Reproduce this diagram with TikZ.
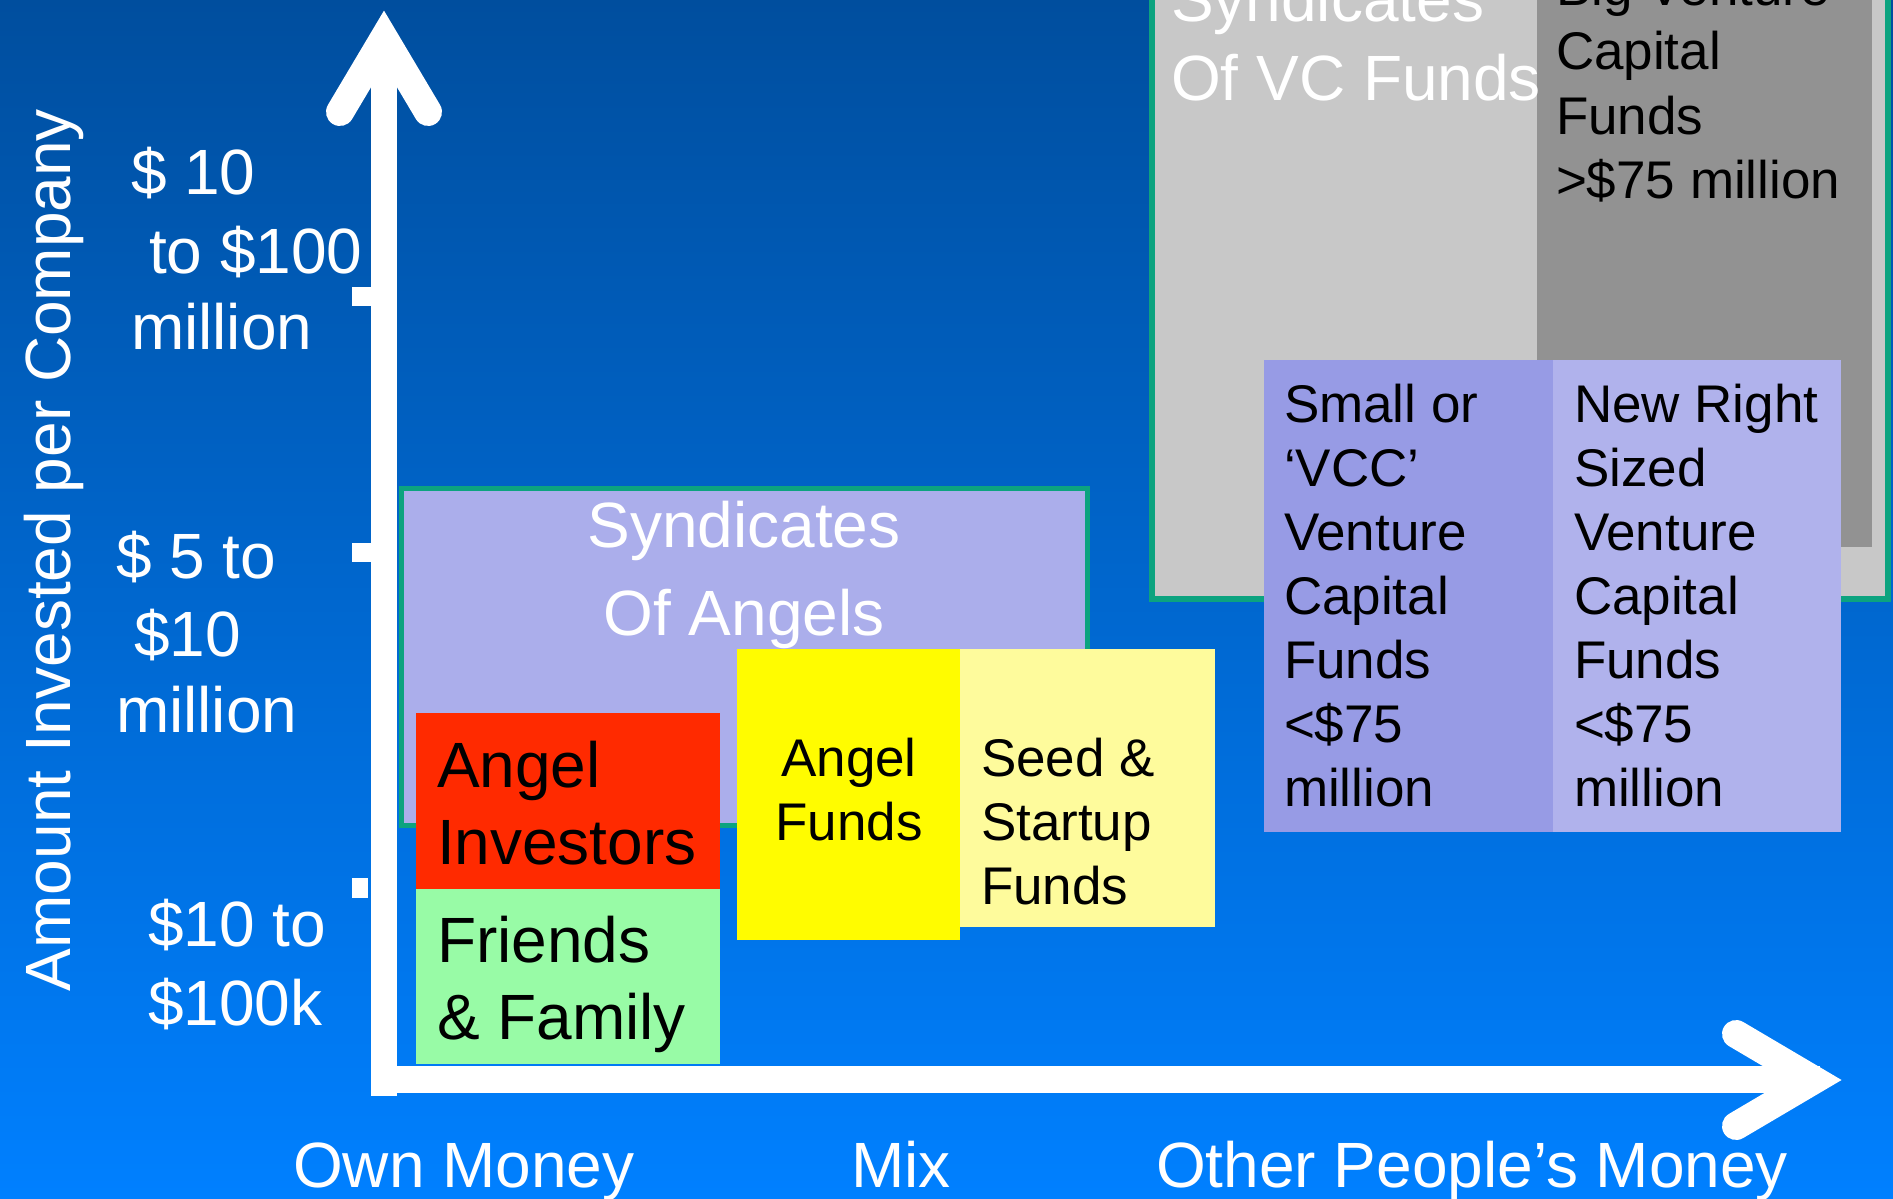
\documentclass[tikz,border=0pt]{standalone}
\usepackage{fontspec}
\setmainfont{Liberation Sans}
\definecolor{bgtop}{HTML}{004E9E}
\definecolor{bgbot}{HTML}{0080FF}
\definecolor{teal}{HTML}{0CA37F}
\definecolor{lgrey}{HTML}{C8C8C8}
\definecolor{dgrey}{HTML}{929292}
\definecolor{lav}{HTML}{ABAEEB}
\definecolor{peri}{HTML}{979BE5}
\definecolor{lperi}{HTML}{B0B2EC}
\definecolor{redbox}{HTML}{FF2A00}
\definecolor{greenbox}{HTML}{98FBA6}
\definecolor{yelbox}{HTML}{FFFC00}
\definecolor{pyelbox}{HTML}{FEFB9C}
\tikzset{
  boxnode/.style={anchor=north west, inner sep=0pt, outer sep=0pt},
  bigtxt/.style={font=\fontsize{64}{77}\selectfont, inner sep=0pt, outer sep=0pt},
  smalltxt/.style={font=\fontsize{53}{64}\selectfont, inner sep=0pt, outer sep=0pt},
  lft/.style={anchor=base west},
  ctr/.style={anchor=base},
  wtxt/.style={text=white},
  btxt/.style={text=black},
  axisbar/.style={fill=white, draw=none},
  chevron/.style={draw=white, line width=28pt, line cap=round, line join=miter}
}
\begin{document}
\begin{tikzpicture}[x=1pt,y=-1pt]
\useasboundingbox (0,0) rectangle (1893,1199);
\shade[top color=bgtop, bottom color=bgbot] (0,0) rectangle (1893,1199);

% right-hand boxes
\node[boxnode, fill=lgrey, draw=teal, line width=6pt, minimum width=736pt, minimum height=629pt] (vcsyn) at (1152,-30) {};
\node[boxnode, fill=dgrey, minimum width=335pt, minimum height=577pt] (bigvc) at (1537,-30) {};
\node[boxnode, fill=peri, minimum width=289pt, minimum height=472pt] (smallvc) at (1264,360) {};
\node[boxnode, fill=lperi, minimum width=288pt, minimum height=472pt] (newvc) at (1553,360) {};

% left-hand boxes
\node[boxnode, fill=lav, draw=teal, line width=5pt, minimum width=686pt, minimum height=337pt] (angsyn) at (401,488) {};
\node[boxnode, fill=redbox, minimum width=304pt, minimum height=176pt] (angel) at (416,713) {};
\node[boxnode, fill=greenbox, minimum width=304pt, minimum height=175pt] (friends) at (416,889) {};
\node[boxnode, fill=yelbox, minimum width=223pt, minimum height=291pt] (angfund) at (737,649) {};
\node[boxnode, fill=pyelbox, minimum width=255pt, minimum height=278pt] (seed) at (960,649) {};

% axes
\node[boxnode, axisbar, minimum width=26pt, minimum height=1056pt] (yaxis) at (371,40) {};
\node[boxnode, axisbar, minimum width=1449pt, minimum height=27pt] (xaxis) at (371,1066) {};
\coordinate (ytip) at (384,38);
\coordinate (yl) at (340,112);
\coordinate (yr) at (428,112);
\draw[chevron] (yl) -- (ytip) -- (yr);
\coordinate (xtip) at (1814,1080);
\coordinate (xu) at (1736,1034);
\coordinate (xd) at (1736,1126);
\draw[chevron] (xu) -- (xtip) -- (xd);
\node[boxnode, axisbar, minimum width=19pt, minimum height=19pt] (tick1) at (352,287) {};
\node[boxnode, axisbar, minimum width=19pt, minimum height=19pt] (tick2) at (352,543) {};
\node[boxnode, axisbar, minimum width=16pt, minimum height=20pt] (tick3) at (352,878) {};

% axis texts
\node[bigtxt, wtxt, rotate=90, anchor=base] (ylab) at (70,550) {Amount Invested per Company};
\node[bigtxt, wtxt, lft] (t1a) at (131,194) {\$ 10};
\node[bigtxt, wtxt, lft] (t1b) at (149,273) {to \$100};
\node[bigtxt, wtxt, lft] (t1c) at (131,349) {million};
\node[bigtxt, wtxt, lft] (t2a) at (116,578) {\$ 5 to};
\node[bigtxt, wtxt, lft] (t2b) at (134,656) {\$10};
\node[bigtxt, wtxt, lft] (t2c) at (116,732) {million};
\node[bigtxt, wtxt, lft] (t3a) at (148,946) {\$10 to};
\node[bigtxt, wtxt, lft] (t3b) at (148,1025) {\$100k};
\node[bigtxt, wtxt, lft] (x1) at (293,1187) {Own Money};
\node[bigtxt, wtxt, lft] (x2) at (851,1187) {Mix};
\node[bigtxt, wtxt, lft] (x3) at (1156,1187) {Other People’s Money};

% box texts
\node[bigtxt, wtxt, lft] (vcs1) at (1171,22) {Syndicates};
\node[bigtxt, wtxt, lft] (vcs2) at (1171,100) {Of VC Funds};
\foreach \t [count=\i from 0] in {Big Venture, Capital, Funds, >\$75 million}
  \node[smalltxt, btxt, lft] (bv\i) at (1556,{6+64*\i}) {\t};
\node[bigtxt, wtxt, ctr] (as1) at (744,547) {Syndicates};
\node[bigtxt, wtxt, ctr] (as2) at (744,635) {Of Angels};
\node[bigtxt, btxt, lft] (ai1) at (437,787) {Angel};
\node[bigtxt, btxt, lft] (ai2) at (437,864) {Investors};
\node[bigtxt, btxt, lft] (ff1) at (437,962) {Friends};
\node[bigtxt, btxt, lft] (ff2) at (437,1039) {\& Family};
\node[smalltxt, btxt, ctr] (af1) at (849,776) {Angel};
\node[smalltxt, btxt, ctr] (af2) at (849,840) {Funds};
\node[smalltxt, btxt, lft] (sf1) at (981,776) {Seed \&};
\node[smalltxt, btxt, lft] (sf2) at (981,840) {Startup};
\node[smalltxt, btxt, lft] (sf3) at (981,904) {Funds};
\foreach \t [count=\i from 0] in {Small or, ‘VCC’, Venture, Capital, Funds, <\$75, million}
  \node[smalltxt, btxt, lft] (sv\i) at (1284,{422+64*\i}) {\t};
\foreach \t [count=\i from 0] in {New Right, Sized, Venture, Capital, Funds, <\$75, million}
  \node[smalltxt, btxt, lft] (nv\i) at (1574,{422+64*\i}) {\t};
\end{tikzpicture}
\end{document}
